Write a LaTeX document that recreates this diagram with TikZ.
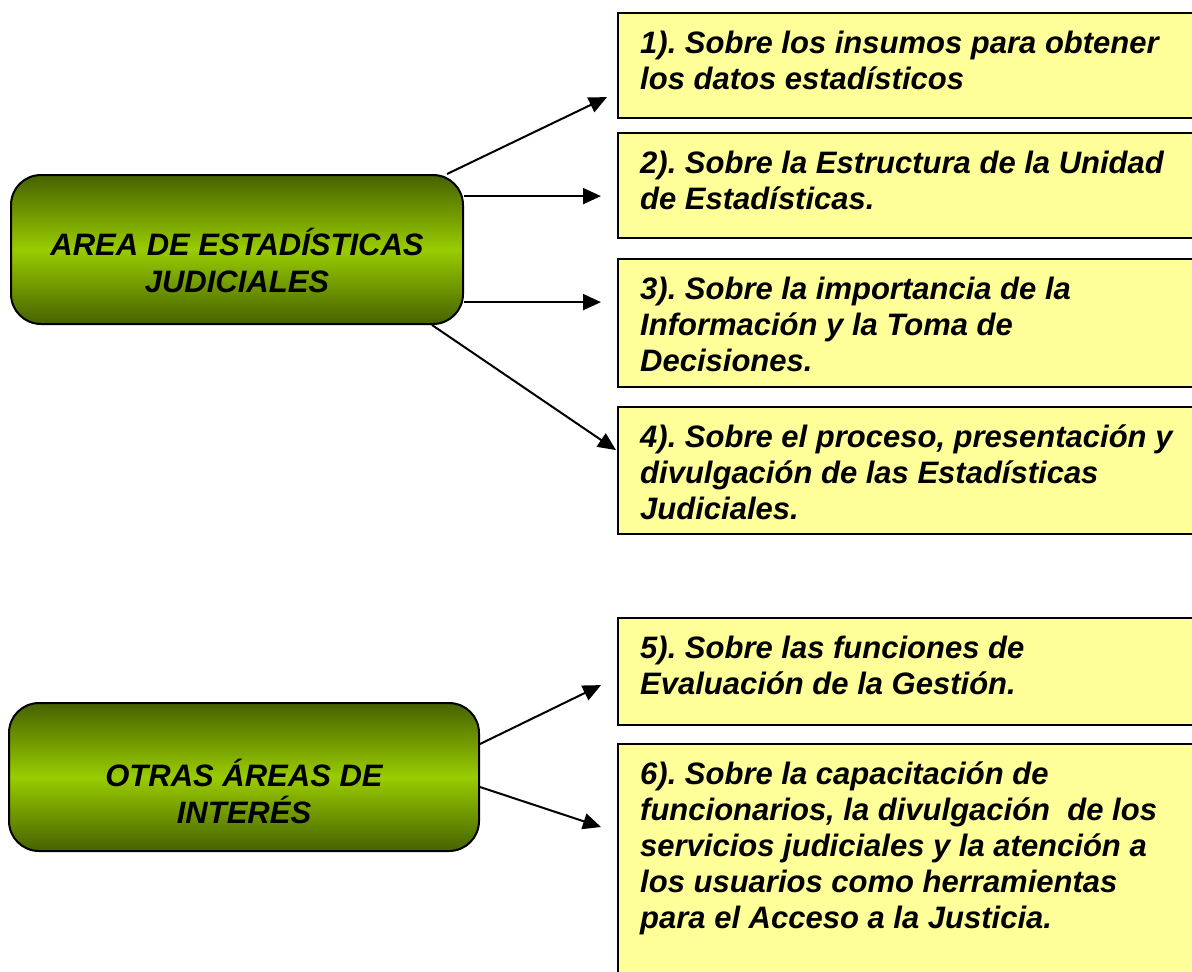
\documentclass[tikz,border=0pt]{standalone}
\usepackage{fontspec}
\setmainfont{Liberation Sans}
\usetikzlibrary{arrows.meta, calc}
\definecolor{areadark}{RGB}{70, 98, 0}
\definecolor{arealight}{RGB}{153, 204, 0}
\definecolor{temayellow}{RGB}{255, 255, 153}
\tikzset{
  areabox/.style={draw, line width=2pt, rounded corners=30pt, top color=areadark, bottom color=areadark, middle color=arealight, anchor=north west, inner sep=0pt},
  areatext/.style={align=center, inner sep=0pt, font=\fontsize{31}{37}\selectfont\bfseries\itshape},
  temabox/.style={draw, line width=2.2pt, fill=temayellow, anchor=north west, minimum width=620pt, inner sep=0pt},
  tematext/.style={anchor=north west, align=left, inner sep=0pt, font=\fontsize{31}{36}\selectfont\bfseries\itshape},
  flecha/.style={line width=2pt, -{Triangle[length=18pt, width=16pt]}}
}
\frenchspacing

\begin{document}
\begin{tikzpicture}[x=1pt, y=-1pt]
\useasboundingbox (0,0) rectangle (1192,972);

% areas
\node[areabox, minimum width=452pt, minimum height=149pt] (A) at (10,174) {};
\node[areatext] (At) at ([yshift=-11pt]A.center) {AREA DE ESTADÍSTICAS\\JUDICIALES};
\node[areabox, minimum width=470pt, minimum height=148pt] (B) at (8,702) {};
\node[areatext] (Bt) at ([yshift=-14pt]B.center) {OTRAS ÁREAS DE\\INTERÉS};

% temas
\node[temabox, minimum height=105pt] (r1) at (617,12) {};
\node[tematext] (t1) at ([xshift=23pt, yshift=-19pt]r1.north west) {1). Sobre los insumos para obtener\\los datos estadísticos};
\node[temabox, minimum height=105pt] (r2) at (617,132) {};
\node[tematext] (t2) at ([xshift=23pt, yshift=-19pt]r2.north west) {2). Sobre la Estructura de la Unidad\\de Estadísticas.};
\node[temabox, minimum height=128pt] (r3) at (617,258) {};
\node[tematext] (t3) at ([xshift=23pt, yshift=-19pt]r3.north west) {3). Sobre la importancia de la\\Información y la Toma de\\Decisiones.};
\node[temabox, minimum height=127pt] (r4) at (617,406) {};
\node[tematext] (t4) at ([xshift=23pt, yshift=-19pt]r4.north west) {4). Sobre el proceso, presentación y\\divulgación de las Estadísticas\\Judiciales.};
\node[temabox, minimum height=107pt] (r5) at (617,617) {};
\node[tematext] (t5) at ([xshift=23pt, yshift=-19pt]r5.north west) {5). Sobre las funciones de\\Evaluación de la Gestión.};
\node[temabox, minimum height=260pt] (r6) at (617,743) {};
\node[tematext] (t6) at ([xshift=23pt, yshift=-19pt]r6.north west) {6). Sobre la capacitación de\\funcionarios, la divulgación~ de los\\servicios judiciales y la atención a\\los usuarios como herramientas\\para el Acceso a la Justicia.};

% flechas
\coordinate (e1) at ([xshift=-10pt, yshift=-31.5pt]r1.west);
\coordinate (e2) at ([xshift=-16pt, yshift=-10.5pt]r2.west);
\coordinate (e3) at ([xshift=-16pt, yshift=21pt]r3.west);
\coordinate (e4) at ([xshift=-1pt, yshift=20.5pt]r4.west);
\coordinate (e5) at ([xshift=-16pt, yshift=-13.5pt]r5.west);
\coordinate (e6) at ([xshift=-16pt, yshift=-84pt]r6.north west);
\draw[flecha] ([xshift=-17pt]A.north east) -- (e1);
\draw[flecha] (A.east |- e2) -- (e2);
\draw[flecha] (A.east |- e3) -- (e3);
\draw[flecha] ([xshift=-32pt]A.south east) -- (e4);
\draw[flecha] ([yshift=33pt]B.east) -- (e5);
\draw[flecha] ([yshift=-10pt]B.east) -- (e6);
\end{tikzpicture}
\end{document}
